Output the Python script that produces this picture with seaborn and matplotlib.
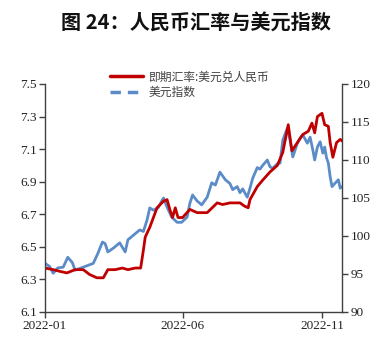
import numpy as np
import pandas as pd
import matplotlib
matplotlib.use("Agg")
import matplotlib.pyplot as plt
import matplotlib.dates as mdates
from matplotlib.lines import Line2D
import seaborn as sns

# ---- data ----
cny_dates = ["2022-01-01", "2022-01-10", "2022-01-17", "2022-01-25", "2022-02-03", "2022-02-12",
             "2022-02-19", "2022-02-27", "2022-03-06", "2022-03-11", "2022-03-19", "2022-03-27",
             "2022-04-02", "2022-04-10", "2022-04-16", "2022-04-19", "2022-04-21", "2022-04-26",
             "2022-05-04", "2022-05-11", "2022-05-15", "2022-05-18", "2022-05-21", "2022-05-24",
             "2022-05-27", "2022-06-01", "2022-06-09", "2022-06-17", "2022-06-28", "2022-07-09",
             "2022-07-15", "2022-07-23", "2022-08-03", "2022-08-08", "2022-08-12", "2022-08-14",
             "2022-08-22", "2022-08-28", "2022-09-05", "2022-09-13", "2022-09-19", "2022-09-25",
             "2022-09-27", "2022-09-29", "2022-10-05", "2022-10-11", "2022-10-17", "2022-10-21",
             "2022-10-24", "2022-10-27", "2022-11-01", "2022-11-04", "2022-11-08", "2022-11-10",
             "2022-11-13", "2022-11-17", "2022-11-21", "2022-11-23"]
cny_values = [6.37, 6.36, 6.35, 6.34, 6.36, 6.36,
              6.33, 6.31, 6.31, 6.36, 6.36, 6.37,
              6.36, 6.37, 6.37, 6.48, 6.56, 6.62,
              6.74, 6.78, 6.79, 6.73, 6.68, 6.74,
              6.68, 6.68, 6.73, 6.71, 6.71, 6.77,
              6.76, 6.77, 6.77, 6.75, 6.74, 6.79,
              6.87, 6.91, 6.96, 7.00, 7.08, 7.25,
              7.17, 7.09, 7.14, 7.19, 7.21, 7.26,
              7.20, 7.30, 7.32, 7.25, 7.24, 7.14,
              7.05, 7.14, 7.16, 7.15]

dxy_dates = ["2022-01-01", "2022-01-06", "2022-01-10", "2022-01-15", "2022-01-21", "2022-01-26",
             "2022-01-31", "2022-02-03", "2022-02-12", "2022-02-23", "2022-02-28", "2022-03-05",
             "2022-03-08", "2022-03-11", "2022-03-17", "2022-03-24", "2022-03-30", "2022-04-02",
             "2022-04-08", "2022-04-15", "2022-04-19", "2022-04-23", "2022-04-26", "2022-04-30",
             "2022-05-05", "2022-05-11", "2022-05-15", "2022-05-20", "2022-05-26", "2022-05-31",
             "2022-06-06", "2022-06-09", "2022-06-12", "2022-06-17", "2022-06-22", "2022-06-28",
             "2022-07-03", "2022-07-07", "2022-07-12", "2022-07-18", "2022-07-23", "2022-07-26",
             "2022-07-31", "2022-08-03", "2022-08-06", "2022-08-11", "2022-08-14", "2022-08-17",
             "2022-08-22", "2022-08-25", "2022-08-28", "2022-09-02", "2022-09-05", "2022-09-08",
             "2022-09-13", "2022-09-16", "2022-09-19", "2022-09-24", "2022-09-27", "2022-09-30",
             "2022-10-05", "2022-10-08", "2022-10-11", "2022-10-16", "2022-10-19", "2022-10-22",
             "2022-10-24", "2022-10-27", "2022-10-30", "2022-11-02", "2022-11-04", "2022-11-06",
             "2022-11-08", "2022-11-10", "2022-11-12", "2022-11-15", "2022-11-19", "2022-11-21",
             "2022-11-23"]
dxy_values = [96.4, 96.0, 95.1, 95.8, 95.9, 97.2,
              96.5, 95.5, 95.9, 96.4, 97.7, 99.2,
              99.0, 97.9, 98.4, 99.1, 97.9, 99.5,
              100.1, 100.8, 100.6, 102.1, 103.7, 103.4,
              103.7, 105.0, 103.8, 102.5, 101.8, 101.8,
              102.5, 104.3, 105.4, 104.6, 104.1, 105.1,
              107.0, 106.7, 108.4, 107.4, 106.9, 106.1,
              106.5, 105.7, 106.2, 105.1, 106.3, 107.6,
              109.0, 108.8, 109.3, 110.0, 109.1, 108.9,
              109.5, 109.6, 112.6, 114.2, 112.6, 110.4,
              112.2, 112.9, 113.3, 112.2, 113.0, 111.3,
              110.0, 111.7, 112.4, 110.9, 111.7, 110.3,
              109.6, 107.8, 106.5, 106.9, 107.4, 106.3,
              106.5]

series_labels = ["即期汇率:美元兑人民币", "美元指数"]
title_text = "图 24：人民币汇率与美元指数"
left_ticks = [6.1, 6.3, 6.5, 6.7, 6.9, 7.1, 7.3, 7.5]
right_ticks = [90, 95, 100, 105, 110, 115, 120]
x_ticks = ["2022-01-01", "2022-06-01", "2022-11-01"]

# ---- build frames ----
df_cny = pd.DataFrame({"date": pd.to_datetime(cny_dates), "value": cny_values})
df_dxy = pd.DataFrame({"date": pd.to_datetime(dxy_dates), "value": dxy_values})

sns.set_theme(style="ticks")
plt.rcParams["font.family"] = ["Liberation Serif", "Noto Sans CJK SC"]

RED = "#C00000"
BLUE = "#5B8CC8"
SPINE = "#404040"

fig = plt.figure(figsize=(3.91, 3.48), dpi=100)
ax = fig.add_axes([45 / 391, 1 - 312 / 348, (342 - 45) / 391, (312 - 84) / 348])
ax2 = ax.twinx()

sns.lineplot(data=df_dxy, x="date", y="value", ax=ax2, color=BLUE, linewidth=2.0, legend=False)
sns.lineplot(data=df_cny, x="date", y="value", ax=ax, color=RED, linewidth=2.0, legend=False)
ax.set_zorder(ax2.get_zorder() + 1)
ax.patch.set_visible(False)

ax.set_ylim(6.1, 7.5)
ax2.set_ylim(90, 120)
ax.set_yticks(left_ticks)
ax.set_yticklabels([f"{v:.1f}" for v in left_ticks])
ax2.set_yticks(right_ticks)
ax2.set_yticklabels([str(v) for v in right_ticks])
ax.set_xlim(pd.Timestamp("2022-01-01"), pd.Timestamp("2022-11-23"))
ax.set_xticks(pd.to_datetime(x_ticks))
ax.xaxis.set_major_formatter(mdates.DateFormatter("%Y-%m"))

for a in (ax, ax2):
    a.set_xlabel("")
    a.set_ylabel("")
    a.spines["top"].set_visible(False)
    for s in ("left", "right", "bottom"):
        a.spines[s].set_color(SPINE)
        a.spines[s].set_linewidth(1.0)
    a.tick_params(colors="#222222", labelsize=9.5, length=4, width=1.0, color=SPINE, pad=2)
ax.spines["right"].set_visible(False)
ax2.spines["left"].set_visible(False)
ax2.spines["bottom"].set_visible(False)

handles = [Line2D([], [], color=RED, linewidth=2.5),
           Line2D([], [], color=BLUE, linewidth=2.5, linestyle=(0, (3, 2)))]
leg = ax.legend(handles, series_labels, loc="upper left", bbox_to_anchor=(0.22, 1.06),
                frameon=False, handlelength=2.8, handletextpad=0.4, labelspacing=0.25,
                borderaxespad=0, borderpad=0,
                prop={"family": ["Noto Sans CJK SC"], "size": 8.5})
for t in leg.get_texts():
    t.set_color("#404040")

fig.text(0.5, 1 - 22 / 348, title_text, ha="center", va="center", fontsize=14.5,
         fontweight="bold", family=["Noto Sans CJK SC"], color="#111111")

fig.savefig("out.png", dpi=100, facecolor="white")
